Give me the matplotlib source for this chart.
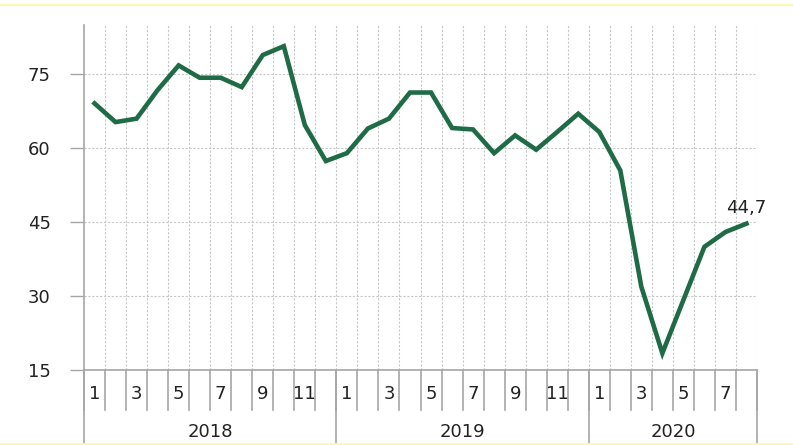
import matplotlib
matplotlib.use("Agg")
import matplotlib.pyplot as plt
import matplotlib.transforms as mtransforms

years = ["2018", "2019", "2020"]
months_per_year = [12, 12, 8]
values = [69.1, 65.3, 66.0, 71.8, 76.8, 74.3, 74.3, 72.4, 78.9, 80.7, 64.7, 57.4,
          59.0, 64.0, 66.0, 71.3, 71.3, 64.1, 63.8, 59.0, 62.6, 59.7, 63.3, 67.0,
          63.3, 55.5, 31.9, 18.4, 29.2, 40.0, 43.0, 44.7]
yticks = [15, 30, 45, 60, 75]
last_label = "44,7"

GREEN = "#1f6b45"
GREY = "#a6a6a6"
FS = 13

fig = plt.figure(figsize=(7.93, 4.45), dpi=100)
ax = fig.add_axes([84 / 793, 75 / 445, (757 - 84) / 793, (370 - 25) / 445])

n = len(values)
xs = [i + 0.5 for i in range(n)]
ax.plot(xs, values, color=GREEN, lw=3.3, solid_joinstyle="miter", zorder=3)
ax.annotate(last_label, (xs[-1], values[-1]), xytext=(0, 5), textcoords="offset points",
            ha="center", va="bottom", fontsize=FS, color="#222222")

ax.set_xlim(0, n)
ax.set_ylim(15, 85)
ax.set_yticks(yticks)
ax.set_yticklabels([str(v) for v in yticks], fontsize=FS, color="#222222")
ax.tick_params(axis="y", length=10, width=1, color=GREY, pad=14)
ax.set_xticks([])

# dotted grid: horizontal at ticks, vertical at month boundaries
for v in yticks[1:]:
    ax.axhline(v, color="#c8c8c8", lw=0.8, ls=(0, (2, 1.5)), zorder=1)
for b in range(1, n + 1):
    ax.axvline(b, color="#c8c8c8", lw=0.8, ls=(0, (2, 1.5)), zorder=1)

for s in ["top", "right"]:
    ax.spines[s].set_visible(False)
for s in ["left", "bottom"]:
    ax.spines[s].set_color(GREY)
    ax.spines[s].set_linewidth(1.2)

# category axis below the plot
trans = mtransforms.blended_transform_factory(ax.transData, ax.transAxes)
h = 345.0
for b in range(n + 1):
    ax.plot([b, b], [0, -40 / h], color=GREY, lw=1.2, transform=trans, clip_on=False)
for i in range(n):
    month = (i % 12) + 1
    if month % 2 == 1:
        ax.text(i + 0.5, -24 / h, str(month), transform=trans, ha="center", va="center",
                fontsize=FS, color="#222222")
start = 0
edges = [0]
for y, m in zip(years, months_per_year):
    edges.append(start + m)
    ax.text(start + m / 2, -62 / h, y, transform=trans, ha="center", va="center",
            fontsize=FS, color="#222222")
    start += m
for e in edges:
    ax.plot([e, e], [0, -76 / h], color=GREY, lw=1.2, transform=trans, clip_on=False)

# pale frame lines
fig.add_artist(plt.Line2D([0, 1], [1 - 5 / 445, 1 - 5 / 445], color="#fff7b0", lw=1.5))
fig.add_artist(plt.Line2D([0, 1], [1.5 / 445, 1.5 / 445], color="#fff7b0", lw=2))

fig.savefig("out.png", dpi=100)
